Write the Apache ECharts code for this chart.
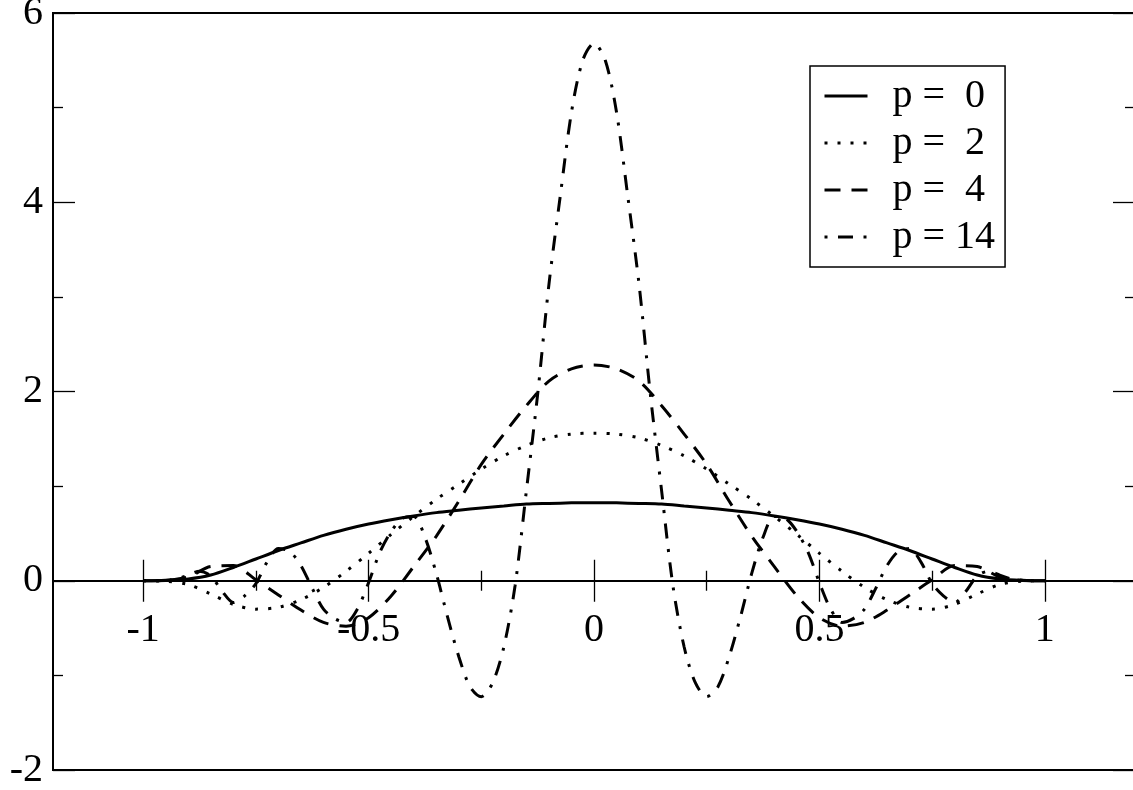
<!DOCTYPE html>
<html>
<head>
<meta charset="utf-8">
<script src="https://cdn.jsdelivr.net/npm/echarts@6/dist/echarts.min.js"></script>
<style>
  html, body { margin: 0; padding: 0; background: #fff; }
  #chart { width: 1133px; height: 790px; }
</style>
</head>
<body>
<div id="chart"></div>
<script>
// sample points
var xCoarse = [-1, -0.95, -0.9, -0.85, -0.8, -0.75, -0.7, -0.65, -0.6, -0.55, -0.5,
  -0.45, -0.4, -0.35, -0.3, -0.25, -0.2, -0.15, -0.1, -0.05, 0,
  0.05, 0.1, 0.15, 0.2, 0.25, 0.3, 0.35, 0.4, 0.45, 0.5,
  0.55, 0.6, 0.65, 0.7, 0.75, 0.8, 0.85, 0.9, 0.95, 1];

var p0Values = [0, 0.003, 0.018, 0.06, 0.14, 0.23, 0.32, 0.40, 0.48, 0.545, 0.60,
  0.645, 0.685, 0.72, 0.745, 0.77, 0.79, 0.81, 0.817, 0.823, 0.825,
  0.823, 0.817, 0.81, 0.79, 0.77, 0.745, 0.72, 0.685, 0.645, 0.60,
  0.545, 0.48, 0.40, 0.32, 0.23, 0.14, 0.06, 0.018, 0.003, 0];

var p2Values = [0, -0.005, -0.04, -0.14, -0.25, -0.30, -0.28, -0.20, -0.07, 0.10, 0.29,
  0.49, 0.68, 0.86, 1.02, 1.18, 1.32, 1.43, 1.51, 1.55, 1.56,
  1.55, 1.51, 1.43, 1.32, 1.18, 1.02, 0.86, 0.68, 0.49, 0.29,
  0.10, -0.07, -0.20, -0.28, -0.30, -0.25, -0.14, -0.04, -0.005, 0];

var p4Values = [0, 0.005, 0.04, 0.15, 0.16, 0.01, -0.15, -0.31, -0.44, -0.48, -0.39,
  -0.16, 0.15, 0.47, 0.84, 1.23, 1.55, 1.85, 2.11, 2.24, 2.28,
  2.24, 2.11, 1.85, 1.55, 1.23, 0.84, 0.47, 0.15, -0.16, -0.39,
  -0.48, -0.44, -0.31, -0.15, 0.01, 0.16, 0.15, 0.04, 0.005, 0];

var xFine = [-1, -0.975, -0.95, -0.925, -0.9, -0.875, -0.85, -0.825, -0.8, -0.775,
  -0.75, -0.725, -0.7, -0.675, -0.65, -0.625, -0.6, -0.575, -0.55, -0.525,
  -0.5, -0.475, -0.45, -0.425, -0.4, -0.375, -0.35, -0.325, -0.3, -0.275,
  -0.25, -0.225, -0.2, -0.175, -0.15, -0.125, -0.1, -0.075, -0.05, -0.025, 0,
  0.025, 0.05, 0.075, 0.1, 0.125, 0.15, 0.175, 0.2, 0.225, 0.25,
  0.275, 0.3, 0.325, 0.35, 0.375, 0.4, 0.425, 0.45, 0.475, 0.5,
  0.525, 0.55, 0.575, 0.6, 0.625, 0.65, 0.675, 0.7, 0.725, 0.75,
  0.775, 0.8, 0.825, 0.85, 0.875, 0.9, 0.925, 0.95, 0.975, 1];

var p14Values = [0, 0, 0.005, 0.02, 0.06, 0.10, 0.05, -0.11, -0.23, -0.16,
  -0.03, 0.20, 0.34, 0.31, 0.16, -0.08, -0.30, -0.40, -0.44, -0.30,
  -0.02, 0.30, 0.52, 0.66, 0.68, 0.46, 0.08, -0.38, -0.80, -1.12,
  -1.225, -1.08, -0.70, -0.05, 0.95, 1.97, 3.13, 4.06, 4.95, 5.50, 5.68,
  5.50, 4.95, 4.06, 3.13, 1.97, 0.95, -0.05, -0.70, -1.08, -1.225,
  -1.12, -0.80, -0.38, 0.08, 0.46, 0.68, 0.66, 0.52, 0.30, -0.02,
  -0.30, -0.44, -0.40, -0.30, -0.08, 0.16, 0.31, 0.34, 0.20, -0.03,
  -0.16, -0.23, -0.11, 0.05, 0.10, 0.06, 0.02, 0.005, 0, 0];

var seriesNames = ['p =  0', 'p =  2', 'p =  4', 'p = 14'];
var xMajorTicks = [-1, -0.5, 0, 0.5, 1];
var xMinorTicks = [-0.75, -0.25, 0.25, 0.75];

var FONT = '"Liberation Serif", "Times New Roman", serif';
var GRID_H = 757;
// the x axis sits on y = 0, which is 2/8 of the way up the frame
var ZERO_LIFT = -GRID_H * 2 / 8;

function pairs(xs, ys) {
  return xs.map(function (x, i) { return [x, ys[i]]; });
}

function zeroAxis(ticks, inside, len, showLine, showLabel) {
  return {
    type: 'value',
    min: -1.2,
    max: 1.2,
    position: 'bottom',
    offset: ZERO_LIFT,
    axisLine: { show: showLine, onZero: false, lineStyle: { color: '#000', width: 2 } },
    axisTick: { show: true, inside: inside, length: len, customValues: ticks, lineStyle: { color: '#000', width: 1.3 } },
    axisLabel: {
      show: showLabel,
      customValues: ticks,
      margin: 30,
      color: '#000',
      fontSize: 40,
      fontFamily: FONT,
      formatter: function (v) { return String(v); }
    },
    splitLine: { show: false }
  };
}

function sideAxis(pos, showLabel) {
  return {
    type: 'value',
    min: -2,
    max: 6,
    interval: 2,
    position: pos,
    axisLine: { show: false, onZero: false },
    axisTick: { show: true, inside: true, length: 22, lineStyle: { color: '#000', width: 1.3 } },
    minorTick: { show: true, splitNumber: 2, length: 10, lineStyle: { color: '#000', width: 1.3 } },
    axisLabel: { show: showLabel, margin: 10, color: '#000', fontSize: 40, fontFamily: FONT },
    splitLine: { show: false },
    minorSplitLine: { show: false }
  };
}

function curve(name, xs, ys, dash) {
  return {
    name: name,
    type: 'line',
    xAxisIndex: 0,
    yAxisIndex: 0,
    data: pairs(xs, ys),
    smooth: 0.3,
    symbol: 'none',
    silent: true,
    animation: false,
    lineStyle: { color: '#000', width: 3, type: dash },
    itemStyle: { color: '#000' }
  };
}

var chart = echarts.init(document.getElementById('chart'));
chart.setOption({
  animation: false,
  backgroundColor: '#fff',
  grid: {
    left: 53, top: 13, right: -2, bottom: 20,
    containLabel: false,
    outerBoundsMode: 'none',
    show: true, borderColor: '#000', borderWidth: 2, backgroundColor: 'transparent'
  },
  legend: {
    orient: 'vertical',
    left: 810,
    top: 66,
    padding: [10, 10, 10, 13],
    borderColor: '#000',
    borderWidth: 1.5,
    itemWidth: 43,
    itemHeight: 14,
    itemGap: 7,
    data: seriesNames,
    formatter: function (name) { return '  ' + name; },
    itemStyle: { color: 'transparent', borderColor: 'transparent', borderWidth: 0 },
    lineStyle: { width: 3 },
    textStyle: { color: '#000', fontSize: 40, lineHeight: 40, fontFamily: FONT }
  },
  xAxis: [
    zeroAxis(xMajorTicks, true, 21, true, true),
    zeroAxis(xMajorTicks, false, 21, false, false),
    zeroAxis(xMinorTicks, true, 10, false, false),
    zeroAxis(xMinorTicks, false, 10, false, false)
  ],
  yAxis: [sideAxis('left', true), sideAxis('right', false)],
  series: [
    curve(seriesNames[0], xCoarse, p0Values, 'solid'),
    curve(seriesNames[1], xCoarse, p2Values, [3, 10]),
    curve(seriesNames[2], xCoarse, p4Values, [16, 11]),
    curve(seriesNames[3], xFine, p14Values, [3, 10.5, 15, 10.5])
  ]
});
</script>
</body>
</html>
